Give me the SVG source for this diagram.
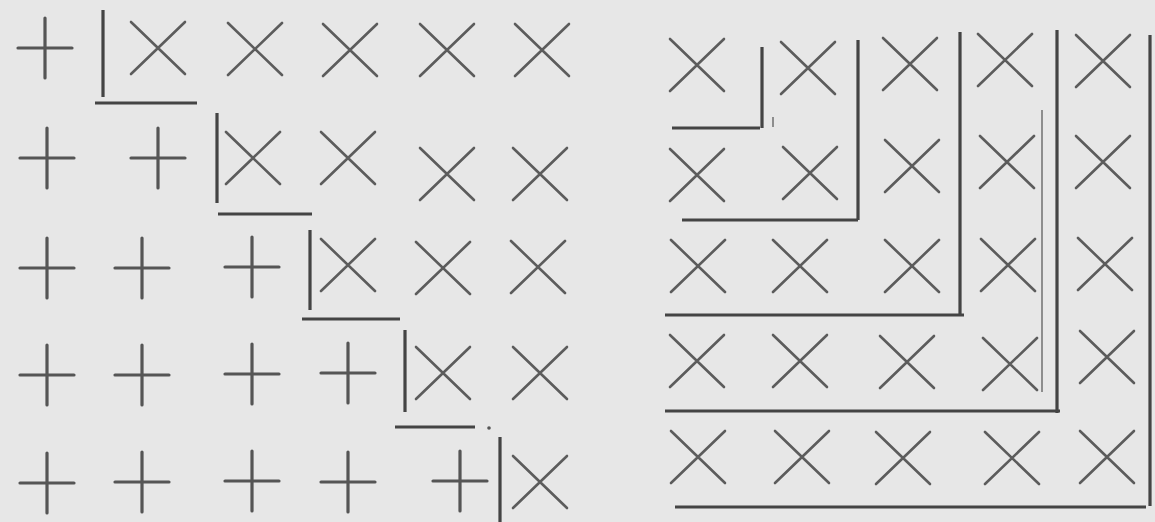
<svg xmlns="http://www.w3.org/2000/svg" xmlns:xlink="http://www.w3.org/1999/xlink" width="1155" height="522" viewBox="0 0 1155 522">
<style>
.mk{fill:none;stroke:#555;stroke-linecap:round}
.p{stroke-width:3.2}
.x{stroke-width:2.6;stroke:#5c5c5c}
.ln{fill:none;stroke:#444;stroke-width:3.2;stroke-linecap:butt}
.fa{fill:none;stroke:#777;stroke-width:1.6}
</style>
<defs>
<path id="plus" class="mk p" d="M-27,0H27M0,-30V30"/>
<path id="cross" class="mk x" d="M-27,-26L27,26M27,-26L-27,26"/>
</defs>
<rect width="1155" height="522" fill="#e7e7e7"/>
<g id="left-grid">
<g id="L-r1">
<use href="#plus" x="45" y="48"/>
<use href="#cross" x="158" y="48"/><use href="#cross" x="255" y="49"/><use href="#cross" x="350" y="50"/><use href="#cross" x="447" y="50"/><use href="#cross" x="542" y="50"/>
</g>
<g id="L-r2">
<use href="#plus" x="47" y="158"/><use href="#plus" x="158" y="158"/>
<use href="#cross" x="253" y="158"/><use href="#cross" x="348" y="158"/><use href="#cross" x="447" y="174"/><use href="#cross" x="540" y="174"/>
</g>
<g id="L-r3">
<use href="#plus" x="47" y="268"/><use href="#plus" x="142" y="268"/><use href="#plus" x="252" y="267"/>
<use href="#cross" x="348" y="265"/><use href="#cross" x="443" y="268"/><use href="#cross" x="538" y="267"/>
</g>
<g id="L-r4">
<use href="#plus" x="47" y="375"/><use href="#plus" x="142" y="375"/><use href="#plus" x="252" y="374"/><use href="#plus" x="348" y="373"/>
<use href="#cross" x="443" y="373"/><use href="#cross" x="540" y="373"/>
</g>
<g id="L-r5">
<use href="#plus" x="47" y="483"/><use href="#plus" x="142" y="482"/><use href="#plus" x="252" y="481"/><use href="#plus" x="348" y="482"/><use href="#plus" x="460" y="481"/>
<use href="#cross" x="540" y="482"/>
</g>
</g>
<g id="left-steps">
<path class="ln" d="M103,10V97M95,103H197"/>
<path class="ln" d="M217,113V203M218,214H312"/>
<path class="ln" d="M310,230V310M302,319H400"/>
<path class="ln" d="M405,330V412M395,427H475"/>
<circle cx="489" cy="428" r="1.8" fill="#555"/>
<path class="ln" d="M500,437V522"/>
</g>
<g id="right-grid">
<g id="R-r1"><use href="#cross" x="697" y="65"/><use href="#cross" x="808" y="68"/><use href="#cross" x="910" y="64"/><use href="#cross" x="1005" y="60"/><use href="#cross" x="1103" y="61"/></g>
<g id="R-r2"><use href="#cross" x="697" y="175"/><use href="#cross" x="810" y="173"/><use href="#cross" x="912" y="166"/><use href="#cross" x="1007" y="162"/><use href="#cross" x="1103" y="162"/></g>
<g id="R-r3"><use href="#cross" x="698" y="266"/><use href="#cross" x="800" y="266"/><use href="#cross" x="912" y="266"/><use href="#cross" x="1008" y="265"/><use href="#cross" x="1105" y="264"/></g>
<g id="R-r4"><use href="#cross" x="697" y="361"/><use href="#cross" x="800" y="361"/><use href="#cross" x="907" y="362"/><use href="#cross" x="1010" y="364"/><use href="#cross" x="1107" y="357"/></g>
<g id="R-r5"><use href="#cross" x="698" y="457"/><use href="#cross" x="802" y="457"/><use href="#cross" x="903" y="458"/><use href="#cross" x="1012" y="458"/><use href="#cross" x="1107" y="457"/></g>
</g>
<g id="right-frames">
<path class="ln" d="M762,47V128M672,128H760"/>
<path class="fa" d="M773,117V127"/>
<path class="ln" d="M858,40V220M682,220H858"/>
<path class="ln" d="M960,32V315M665,315H964"/>
<path class="fa" d="M1042,110V392"/>
<path class="ln" d="M1057,30V413M665,411H1060"/>
<path class="ln" d="M1150,35V506M675,507H1146"/>
</g>
</svg>
